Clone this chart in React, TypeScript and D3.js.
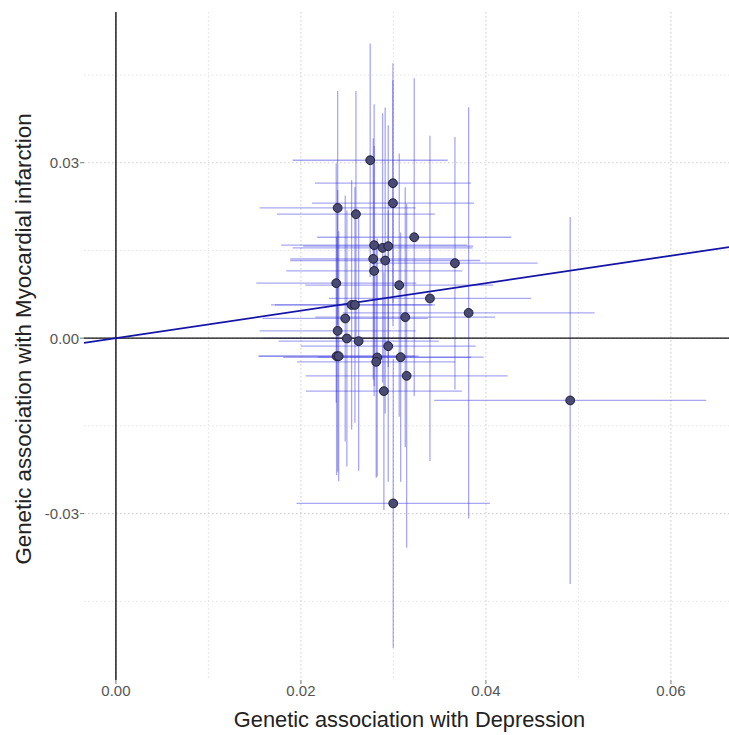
import React from "react";
import * as d3 from "d3";

// Genetic association with Depression (exposure) per SNP
const betaX = [0.02749, 0.02995, 0.02995, 0.02397, 0.02595, 0.03225, 0.02792, 0.02883, 0.02944, 0.02782, 0.02911, 0.02792, 0.03665, 0.02382, 0.03063, 0.03395, 0.02548, 0.02584, 0.03813, 0.02479, 0.03128, 0.02397, 0.02497, 0.02624, 0.02944, 0.02386, 0.02408, 0.02825, 0.02814, 0.03078, 0.03143, 0.02897, 0.02998, 0.04911];
// Genetic association with Myocardial infarction (outcome) per SNP
const betaY = [0.03043, 0.0265, 0.02308, 0.02227, 0.0212, 0.01726, 0.0159, 0.01544, 0.01573, 0.01356, 0.01328, 0.0115, 0.01282, 0.0094, 0.00906, 0.00679, 0.00569, 0.00569, 0.00432, 0.00337, 0.00359, 0.00125, -0.00005, -0.00051, -0.00137, -0.00308, -0.00308, -0.0033, -0.00405, -0.00325, -0.00644, -0.00906, -0.02826, -0.01065];
// Half-widths of the confidence intervals
const ciX = [0.00838, 0.00843, 0.00876, 0.00843, 0.00854, 0.01049, 0.01005, 0.00973, 0.00919, 0.00897, 0.01027, 0.00951, 0.00894, 0.00865, 0.01016, 0.01092, 0.00872, 0.00865, 0.01362, 0.00893, 0.00973, 0.00843, 0.00919, 0.00865, 0.00946, 0.00843, 0.00865, 0.01016, 0.00854, 0.00897, 0.01092, 0.00843, 0.01045, 0.0147];
const ciY = [0.01995, 0.02051, 0.02103, 0.02, 0.02108, 0.02718, 0.0241, 0.02303, 0.02068, 0.02063, 0.02615, 0.02137, 0.02159, 0.02046, 0.02251, 0.02781, 0.02132, 0.02017, 0.03515, 0.02103, 0.02222, 0.0241, 0.02188, 0.02217, 0.0232, 0.02034, 0.02137, 0.02034, 0.01983, 0.02132, 0.0294, 0.02034, 0.02474, 0.03138];

const slope = 0.235;

const xTicks = [0, 0.02, 0.04, 0.06];
const xTickLabels = ["0.00", "0.02", "0.04", "0.06"];
const xMinor = [0.01, 0.03, 0.05];
const yTicks = [-0.03, 0, 0.03];
const yTickLabels = ["-0.03", "0.00", "0.03"];
const yMinor = [-0.045, -0.015, 0.015, 0.045];

const W = 729;
const H = 735;
const P = { left: 84, right: 729, top: 12, bottom: 680 };

export default function App() {
  const x = d3.scaleLinear().domain([-0.00345, 0.06628]).range([P.left, P.right]);
  const y = d3.scaleLinear().domain([-0.05846, 0.05578]).range([P.bottom, P.top]);
  const font = "'Liberation Sans', Arial, sans-serif";
  const [x0, x1] = x.domain();
  const line = d3.line<number>().x((d) => x(d)).y((d) => y(d * slope));

  return (
    <svg width={W} height={H} style={{ position: "absolute", left: 0, top: 0, background: "#fff" }} fontFamily={font}>
      <defs>
        <clipPath id="panel">
          <rect x={P.left} y={P.top} width={P.right - P.left} height={P.bottom - P.top} />
        </clipPath>
      </defs>
      {/* minor grid */}
      {xMinor.map((v) => (
        <line key={"xm" + v} x1={x(v)} x2={x(v)} y1={P.top} y2={P.bottom} stroke="#e3e3e3" strokeWidth={1} strokeDasharray="1.5 2.5" />
      ))}
      {yMinor.map((v) => (
        <line key={"ym" + v} y1={y(v)} y2={y(v)} x1={P.left} x2={P.right} stroke="#e3e3e3" strokeWidth={1} strokeDasharray="1.5 2.5" />
      ))}
      {/* major grid */}
      {xTicks.map((v) => (
        <line key={"xg" + v} x1={x(v)} x2={x(v)} y1={P.top} y2={P.bottom} stroke="#cfcfcf" strokeWidth={1.1} strokeDasharray="1.5 2.5" />
      ))}
      {yTicks.map((v) => (
        <line key={"yg" + v} y1={y(v)} y2={y(v)} x1={P.left} x2={P.right} stroke="#cfcfcf" strokeWidth={1.1} strokeDasharray="1.5 2.5" />
      ))}
      <g clipPath="url(#panel)">
        {/* error bars */}
        {betaX.map((bx, i) => (
          <g key={"e" + i} stroke="#3030e0" strokeOpacity={0.42} strokeWidth={1.3}>
            <line x1={x(bx)} x2={x(bx)} y1={y(betaY[i] - ciY[i])} y2={y(betaY[i] + ciY[i])} />
            <line y1={y(betaY[i])} y2={y(betaY[i])} x1={x(bx - ciX[i])} x2={x(bx + ciX[i])} />
          </g>
        ))}
        {/* reference axes */}
        <line x1={x(0)} x2={x(0)} y1={P.top} y2={P.bottom} stroke="#111" strokeWidth={1.4} />
        <line y1={y(0)} y2={y(0)} x1={P.left} x2={P.right} stroke="#111" strokeWidth={1.4} />
        {/* regression line */}
        <path d={line([x0, x1]) || ""} stroke="#1414a8" strokeWidth={1.8} fill="none" />
        {/* points */}
        {betaX.map((bx, i) => (
          <circle key={"p" + i} cx={x(bx)} cy={y(betaY[i])} r={4.4} fill="#4a4b75" stroke="#1c1c38" strokeWidth={1} />
        ))}
      </g>
      {/* axis ticks and labels */}
      {yTicks.map((v, i) => (
        <g key={"yt" + v}>
          <line x1={P.left - 4} x2={P.left} y1={y(v)} y2={y(v)} stroke="#777" strokeWidth={1} />
          <text x={P.left - 5} y={y(v)} dy="0.36em" textAnchor="end" fontSize={15} fill="#555">
            {yTickLabels[i]}
          </text>
        </g>
      ))}
      {xTicks.map((v, i) => (
        <g key={"xt" + v}>
          <line x1={x(v)} x2={x(v)} y1={P.bottom} y2={P.bottom + 4} stroke="#777" strokeWidth={1} />
          <text x={x(v)} y={696} textAnchor="middle" fontSize={15} fill="#555">
            {xTickLabels[i]}
          </text>
        </g>
      ))}
      <text x={(P.left + P.right) / 2 + 3} y={727} textAnchor="middle" fontSize={21.8} fill="#222">
        Genetic association with Depression
      </text>
      <text transform={`translate(31, 339) rotate(-90)`} textAnchor="middle" fontSize={22.3} fill="#222">
        Genetic association with Myocardial infarction
      </text>
    </svg>
  );
}
